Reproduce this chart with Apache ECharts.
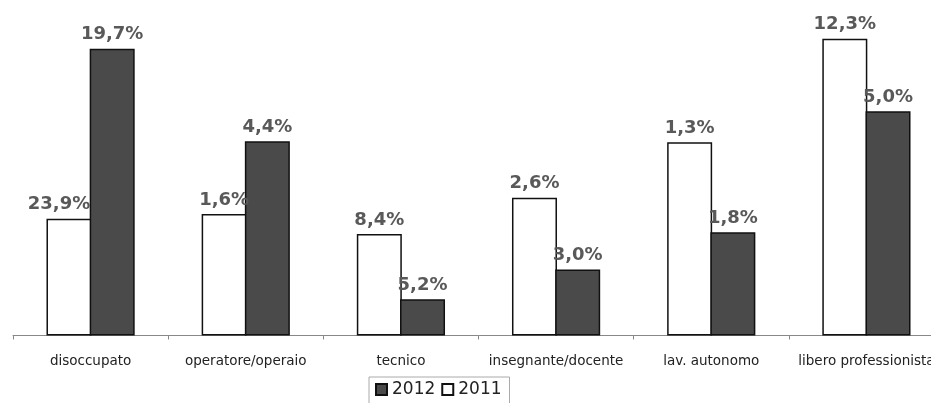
<!DOCTYPE html>
<html><head><meta charset="utf-8">
<script src="https://cdn.jsdelivr.net/npm/echarts@6/dist/echarts.min.js"></script>
<style>html,body{margin:0;padding:0;background:#fff;overflow:hidden;width:931px;height:403px}#c{width:944px;height:403px}</style>
</head><body><div id="c"></div>
<script>
var categories = ['disoccupato','operatore/operaio','tecnico','insegnante/docente','lav. autonomo','libero professionista'];
var heights2011 = [35.9, 37.3, 31.2, 42.3, 59.4, 91.2];
var heights2012 = [88.1, 59.7, 11.1, 20.3, 31.7, 68.9];
var labels2011 = ['23,9%','1,6%','8,4%','2,6%','1,3%','12,3%'];
var labels2012 = ['19,7%','4,4%','5,2%','3,0%','1,8%','5,0%'];
var legendNames = ['2012','2011'];

var chart = echarts.init(document.getElementById('c'), null, {renderer:'canvas'});
var labelStyle = {show:true, position:'top', distance:5, fontFamily:'DejaVu Sans', fontWeight:'bold', fontSize:18, color:'#595959'};
function mk(vals, offsets){
  return vals.map(function(v,i){
    var d = {value:v};
    if (offsets && offsets[i]) d.label = {offset: offsets[i]};
    return d;
  });
}
chart.setOption({
  animation:false,
  grid:{left:13, right:0, top:10, bottom:67.5},
  legend:{
    data:legendNames, left:369, top:377, icon:'rect', itemWidth:11, itemHeight:11, itemGap:6,
    borderColor:'#aaa', borderWidth:1, padding:[4,8,8,6],
    textStyle:{fontFamily:'DejaVu Sans', fontSize:17, color:'#222'}
  },
  xAxis:{type:'category', data:categories,
    axisLine:{lineStyle:{color:'#888', width:1}},
    axisTick:{show:true, length:4, lineStyle:{color:'#888'}},
    axisLabel:{fontFamily:'DejaVu Sans', fontSize:13.5, color:'#222', margin:19, interval:0}},
  yAxis:{type:'value', min:0, max:100, show:false, splitLine:{show:false}},
  series:[
    {name:'2011', type:'bar', barWidth:45, barGap:'-4%', data:mk(heights2011, [[-10,0]]),
     itemStyle:{color:'#ffffff', borderColor:'#111', borderWidth:1.5},
     label:Object.assign({}, labelStyle, {formatter:function(p){return labels2011[p.dataIndex];}})},
    {name:'2012', type:'bar', barWidth:45, barGap:'-4%', data:mk(heights2012),
     itemStyle:{color:'#4a4a4a', borderColor:'#111', borderWidth:1.5},
     label:Object.assign({}, labelStyle, {formatter:function(p){return labels2012[p.dataIndex];}})}
  ]
});
</script></body></html>
